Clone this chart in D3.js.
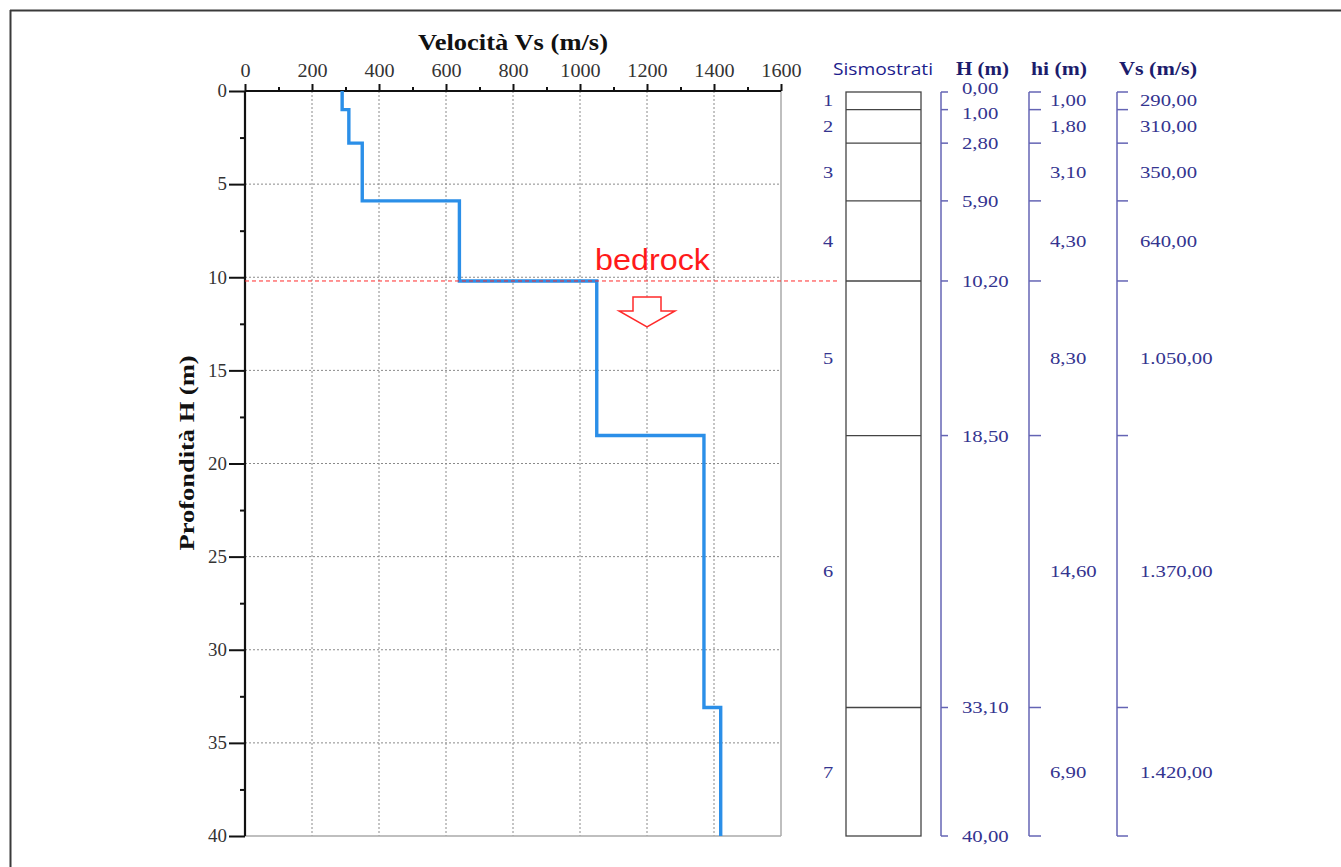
<!DOCTYPE html>
<html><head><meta charset="utf-8">
<script src="https://cdn.jsdelivr.net/npm/d3@7/dist/d3.min.js"></script>
<style>body{margin:0;background:#fff}svg{display:block}</style>
</head><body>
<script>
// Data
const layerIds = [1,2,3,4,5,6,7];
const layerTops = [0,1.0,2.8,5.9,10.2,18.5,33.1];
const layerBottoms = [1.0,2.8,5.9,10.2,18.5,33.1,40.0];
const layerThickness = [1.00,1.80,3.10,4.30,8.30,14.60,6.90];
const vsValues = [290,310,350,640,1050,1370,1420];
const depthLabels = ["0,00","1,00","2,80","5,90","10,20","18,50","33,10","40,00"];
const hiLabels = ["1,00","1,80","3,10","4,30","8,30","14,60","6,90"];
const vsLabels = ["290,00","310,00","350,00","640,00","1.050,00","1.370,00","1.420,00"];
const xTicks = [0,200,400,600,800,1000,1200,1400,1600];
const yTicks = [0,5,10,15,20,25,30,35,40];
const bedrockDepth = 10.2;

const W=1341,H=867;
const svg=d3.select("body").append("svg").attr("width",W).attr("height",H);
const x=d3.scaleLinear().domain([0,1600]).range([245,781]);
const y=d3.scaleLinear().domain([0,40]).range([91,836]);
const serif="'Liberation Serif','Times New Roman',serif";
function stretch(sel,f){sel.each(function(){const l=this.getComputedTextLength();d3.select(this).attr("textLength",l*f).attr("lengthAdjust","spacingAndGlyphs");});}

// frame
svg.append("line").attr("x1",10).attr("x2",W).attr("y1",10.5).attr("y2",10.5).attr("stroke","#3a3a3a").attr("stroke-width",2);
svg.append("line").attr("x1",10.5).attr("x2",10.5).attr("y1",10).attr("y2",H).attr("stroke","#3a3a3a").attr("stroke-width",2);

// grid
const g=svg.append("g");
g.selectAll(".vg").data(xTicks.filter(d=>d>0&&d<1600)).join("line")
 .attr("x1",d=>x(d)).attr("x2",d=>x(d)).attr("y1",y(0)).attr("y2",y(40))
 .attr("stroke","#8a8a8a").attr("stroke-width",1).attr("stroke-dasharray","2,2");
g.selectAll(".hg").data(yTicks.filter(d=>d>0&&d<40)).join("line")
 .attr("x1",x(0)).attr("x2",x(1600)).attr("y1",d=>y(d)).attr("y2",d=>y(d))
 .attr("stroke","#8a8a8a").attr("stroke-width",1).attr("stroke-dasharray","2,2");
g.append("line").attr("x1",x(1600)).attr("x2",x(1600)).attr("y1",y(0)).attr("y2",y(40)).attr("stroke","#aaa").attr("stroke-width",1.5);
g.append("line").attr("x1",x(0)).attr("x2",x(1600)).attr("y1",y(40)).attr("y2",y(40)).attr("stroke","#aaa").attr("stroke-width",1.5);

// axes
const xAxis=d3.axisTop(x).tickValues(d3.range(0,1601,100)).tickSize(6).tickFormat(d=>d%200===0?d:"");
const ax=svg.append("g").attr("transform",`translate(0,${y(0)})`).call(xAxis);
ax.select(".domain").attr("stroke","#111").attr("stroke-width",2.2).attr("d",`M${x(0)},0H${x(1600)}`);
ax.selectAll(".tick line").attr("stroke","#111").attr("stroke-width",2).attr("y2",d=>d%200===0?-7:-4);
ax.selectAll(".tick text").attr("font-family",serif).attr("font-size",18).attr("fill","#333").attr("dy","0").attr("y",-14);
stretch(ax.selectAll(".tick text"),1.12);

const yAxis=d3.axisLeft(y).tickValues(d3.range(0,40.1,2.5)).tickSize(8).tickFormat(d=>d%5===0?d:"");
const ay=svg.append("g").attr("transform",`translate(${x(0)},0)`).call(yAxis);
ay.select(".domain").attr("stroke","#111").attr("stroke-width",2.2).attr("d",`M0,${y(0)}V${y(40)}`);
ay.selectAll(".tick line").attr("stroke","#111").attr("stroke-width",2).attr("x2",d=>d%5===0?-16:-5);
ay.selectAll(".tick text").attr("font-family",serif).attr("font-size",18).attr("fill","#333").attr("x",-18);
stretch(ay.selectAll(".tick text"),1.05);

// titles
svg.append("text").attr("x",513).attr("y",50).attr("text-anchor","middle").attr("font-family",serif).attr("font-weight","bold").attr("font-size",24).attr("fill","#111").text("Velocità Vs (m/s)").call(s=>s.attr("textLength",190).attr("lengthAdjust","spacingAndGlyphs"));
svg.append("text").attr("transform",`translate(194,${453}) rotate(-90)`).attr("text-anchor","middle").attr("font-family",serif).attr("font-weight","bold").attr("font-size",22).attr("fill","#111").text("Profondità H (m)").call(s=>s.attr("textLength",195).attr("lengthAdjust","spacingAndGlyphs"));

// step profile
const pts=[];
vsValues.forEach((v,i)=>{pts.push([v,layerTops[i]]);pts.push([v,layerBottoms[i]]);});
const line=d3.line().x(d=>x(d[0])).y(d=>y(d[1]));
svg.append("path").datum(pts).attr("d",line).attr("fill","none").attr("stroke","#2b8fe8").attr("stroke-width",3.4);

// bedrock
svg.append("line").attr("x1",x(0)).attr("x2",840).attr("y1",y(bedrockDepth)).attr("y2",y(bedrockDepth)).attr("stroke","#ff2a2a").attr("stroke-width",1).attr("stroke-dasharray","4,3");
svg.append("text").attr("x",595).attr("y",270).attr("font-family","'Liberation Sans',Arial,sans-serif").attr("font-size",30).attr("fill","#ff1a1a").text("bedrock").attr("textLength",115).attr("lengthAdjust","spacingAndGlyphs");
const ax0=x(1200);
svg.append("path").attr("d",`M${ax0-14},297H${ax0+14}V311H${ax0+28}L${ax0},327L${ax0-28},311H${ax0-14}Z`).attr("fill","#fff").attr("stroke","#ff2a2a").attr("stroke-width",1.5);

// strata column
const navy="#34348f", bracket="#6464b4";
const sg=svg.append("g");
sg.append("text").attr("x",833).attr("y",75).attr("font-family","'Open Sans','DejaVu Sans',sans-serif").attr("font-size",17).attr("fill","#1c1c8c").text("Sismostrati").attr("textLength",100).attr("lengthAdjust","spacingAndGlyphs");
[["H (m)",956,53],["hi (m)",1031,56],["Vs (m/s)",1119,78]].forEach(([t,x0,w])=>{
  sg.append("text").attr("x",x0).attr("y",75).attr("font-family",serif).attr("font-weight","bold").attr("font-size",18).attr("fill","#1c1c6c").text(t).attr("textLength",w).attr("lengthAdjust","spacingAndGlyphs");
});
sg.append("rect").attr("x",846).attr("width",75).attr("y",y(0)+1).attr("height",y(40)-y(0)-1)
 .attr("fill","#fff").attr("stroke","#444").attr("stroke-width",1.3);
sg.selectAll(".lb").data(layerBottoms.slice(0,-1)).join("line")
 .attr("x1",846).attr("x2",921).attr("y1",d=>y(d)).attr("y2",d=>y(d)).attr("stroke","#444").attr("stroke-width",1.3);
const lid=sg.selectAll(".lid").data(layerIds).join("text")
 .attr("x",828).attr("y",(d,i)=>y((layerTops[i]+layerBottoms[i])/2)).attr("dy","0.35em").attr("text-anchor","middle")
 .attr("font-family",serif).attr("font-size",17).attr("fill",navy).text(d=>d);
stretch(lid,1.2);

function bracketCol(x0,len){
  const bd=[0,...layerBottoms];
  sg.append("line").attr("x1",x0).attr("x2",x0).attr("y1",y(0)+1).attr("y2",y(40)).attr("stroke",bracket).attr("stroke-width",1.5);
  sg.selectAll(null).data(bd).join("line").attr("x1",x0).attr("x2",x0+len).attr("y1",d=>y(d)+(d===0?1:0)).attr("y2",d=>y(d)+(d===0?1:0)).attr("stroke",bracket).attr("stroke-width",1.5);
}
bracketCol(941,7);
bracketCol(1029,12);
bracketCol(1117,11);

const depthVals=[0,...layerBottoms];
const hl=sg.selectAll(".hl").data(depthLabels).join("text")
 .attr("x",962).attr("y",(d,i)=>y(depthVals[i])+(i===0?-3:i===1?3:0)).attr("dy","0.35em")
 .attr("font-family",serif).attr("font-size",17).attr("fill",navy).text(d=>d);
stretch(hl,1.22);
const hil=sg.selectAll(".hil").data(hiLabels).join("text")
 .attr("x",1050).attr("y",(d,i)=>y((layerTops[i]+layerBottoms[i])/2)).attr("dy","0.35em")
 .attr("font-family",serif).attr("font-size",17).attr("fill",navy).text(d=>d);
stretch(hil,1.22);
const vsl=sg.selectAll(".vsl").data(vsLabels).join("text")
 .attr("x",1140).attr("y",(d,i)=>y((layerTops[i]+layerBottoms[i])/2)).attr("dy","0.35em")
 .attr("font-family",serif).attr("font-size",17).attr("fill",navy).text(d=>d);
stretch(vsl,1.22);
</script>
</body></html>
